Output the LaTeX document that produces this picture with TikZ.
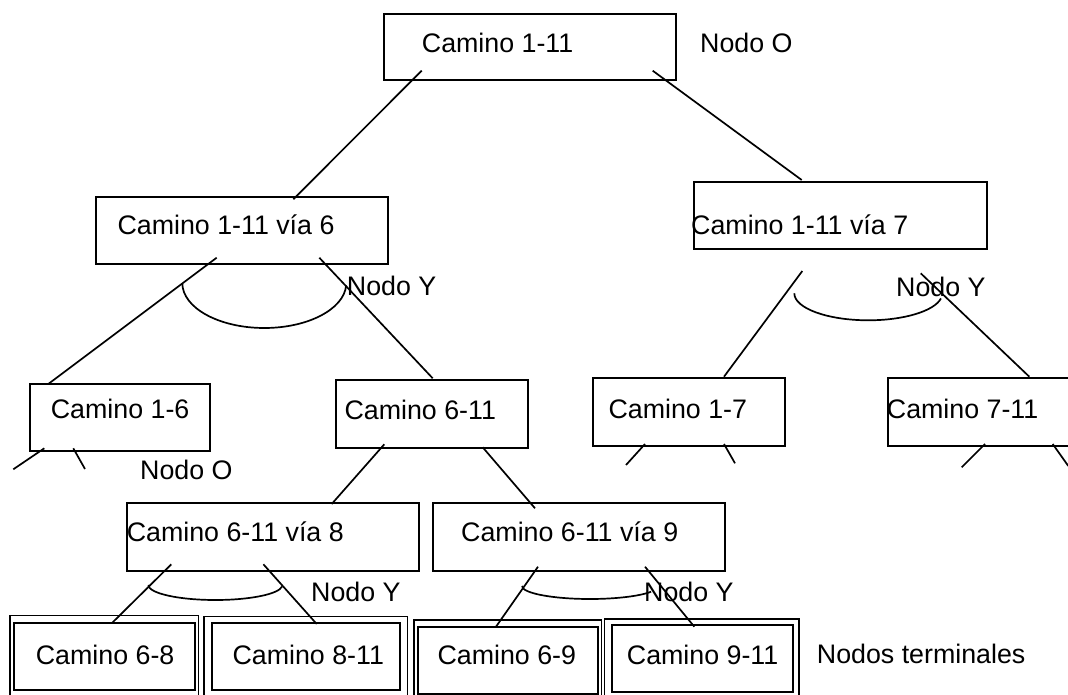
\documentclass[tikz,border=0pt]{standalone}
\usepackage{fontspec}
\setmainfont{Liberation Sans}
\begin{document}
\begin{tikzpicture}[x=1pt, y=-1pt,
  box/.style={draw, line width=1.8pt, inner sep=0pt, anchor=north west},
  outerbox/.style={draw, line width=1.4pt, inner sep=0pt, anchor=north west},
  lbl/.style={inner sep=0pt, anchor=base west, font=\fontsize{26.8}{31}\selectfont},
  link/.style={line width=1.7pt},
  andarc/.style={line width=1.7pt}]
\clip (0,0) rectangle (1068,695);

% ---- boxes ----
\node[box, minimum width=292, minimum height=66] (a) at (383,13) {};
\node[box, minimum width=292, minimum height=67] (b) at (95,196) {};
\node[box, minimum width=293, minimum height=67] (c) at (693,181) {};
\node[box, minimum width=180, minimum height=67] (d) at (29,383) {};
\node[box, minimum width=192, minimum height=68] (e) at (335,379) {};
\node[box, minimum width=192, minimum height=68] (f) at (592,377) {};
\node[box, minimum width=220, minimum height=68] (g) at (887,377) {};
\node[box, minimum width=292, minimum height=68] (h) at (126,502) {};
\node[box, minimum width=292, minimum height=68] (i) at (432,502) {};

% terminal nodes: double frame
\node[outerbox, minimum width=188.4, minimum height=90] (t1o) at (9.3,615) {};
\node[box, minimum width=181.3, minimum height=67.6] (t1) at (12.7,621.7) {};
\node[outerbox, minimum width=203.4, minimum height=90] (t2o) at (203.3,616) {};
\node[box, minimum width=188.6, minimum height=67.6] (t2) at (210.7,621.7) {};
\node[outerbox, minimum width=187.7, minimum height=90] (t3o) at (413.3,619.3) {};
\node[box, minimum width=180, minimum height=67.3] (t3) at (416.7,626) {};
\node[outerbox, minimum width=194.3, minimum height=76.5] (t4o) at (604,618.3) {};
\node[box, minimum width=181, minimum height=66.7] (t4) at (610.7,624) {};

% ---- texts ----
\node[lbl] (ta) at (421.7,52.3) {Camino 1-11};
\node[lbl] (no1) at (700,52.3) {Nodo O};
\node[lbl] (tb) at (117.3,234.3) {Camino 1-11 vía 6};
\node[lbl] (tc) at (691,234) {Camino 1-11 vía 7};
\node[lbl] (ny1) at (346.7,295.7) {Nodo Y};
\node[lbl] (ny2) at (896,296) {Nodo Y};
\node[lbl] (td) at (50.7,418.3) {Camino 1-6};
\node[lbl] (no2) at (140,479.3) {Nodo O};
\node[lbl] (te) at (344.3,419) {Camino 6-11};
\node[lbl] (tf) at (608.3,418.3) {Camino 1-7};
\node[lbl] (tg) at (886.7,418) {Camino 7-11};
\node[lbl] (th) at (126.6,541.7) {Camino 6-11 vía 8};
\node[lbl] (ti) at (461,541.7) {Camino 6-11 vía 9};
\node[lbl] (ny3) at (311,601.7) {Nodo Y};
\node[lbl] (ny4) at (644,601.7) {Nodo Y};
\node[lbl] (tt1) at (35.7,664) {Camino 6-8};
\node[lbl] (tt2) at (232.3,664) {Camino 8-11};
\node[lbl] (tt3) at (437.3,664) {Camino 6-9};
\node[lbl] (tt4) at (626.7,664) {Camino 9-11};
\node[lbl] (nt) at (816.7,663) {Nodos terminales};

% ---- connectors ----
\draw[link] ([shift={(38.7,57.7)}]a.north west) -- ([shift={(198.3,3.3)}]b.north west);
\draw[link] ([shift={(269.7,57.7)}]a.north west) -- ([shift={(108.7,-1)}]c.north west);
\draw[link] ([shift={(121.7,61.7)}]b.north west) -- ([shift={(19.3,1)}]d.north west);
\draw[link] ([shift={(224.3,61.7)}]b.north west) -- ([shift={(97.7,-0.7)}]e.north west);
\draw[link] ([shift={(109.3,90)}]c.north west) -- ([shift={(132,-0.3)}]f.north west);
\draw[link] ([shift={(227.7,92.3)}]c.north west) -- ([shift={(142.3,-0.3)}]g.north west);
\draw[link] ([shift={(49.3,65.3)}]e.north west) -- ([shift={(205.7,2)}]h.north west);
\draw[link] ([shift={(147.7,68.3)}]e.north west) -- ([shift={(103,6.3)}]i.north west);
\draw[link] ([shift={(45.3,62.3)}]h.north west) -- ([shift={(99,1.6)}]t1.north west);
\draw[link] ([shift={(137.4,62.3)}]h.north west) -- ([shift={(106,2.3)}]t2.north west);
\draw[link] ([shift={(106,64.7)}]i.north west) -- ([shift={(79.3,0.7)}]t3.north west);
\draw[link] ([shift={(213,64.7)}]i.north west) -- ([shift={(83.6,2.7)}]t4.north west);

% open branches below the unexpanded nodes
\coordinate (d1) at (13.3,469.3);
\coordinate (d2) at (85,469);
\coordinate (f1) at (626,465);
\coordinate (f2) at (735,463.3);
\coordinate (g1) at (961.7,467.3);
\coordinate (g2) at (1068.3,466);
\draw[link] ([shift={(15.3,65.3)}]d.north west) -- (d1);
\draw[link] ([shift={(44.3,65.3)}]d.north west) -- (d2);
\draw[link] ([shift={(53,67)}]f.north west) -- (f1);
\draw[link] ([shift={(132,67)}]f.north west) -- (f2);
\draw[link] ([shift={(98,67)}]g.north west) -- (g1);
\draw[link] ([shift={(165.7,67)}]g.north west) -- (g2);

% ---- AND arcs ----
\draw[andarc] (182.3,283) arc[start angle=180, end angle=3, x radius=82, y radius=45];
\draw[andarc] (794.3,293.3) arc[start angle=180, end angle=11, x radius=74, y radius=27];
\draw[andarc] (148.4,585) arc[start angle=180, end angle=6, x radius=67, y radius=15];
\draw[andarc] (522,586) arc[start angle=180, end angle=26, x radius=68, y radius=13];
\end{tikzpicture}
\end{document}
